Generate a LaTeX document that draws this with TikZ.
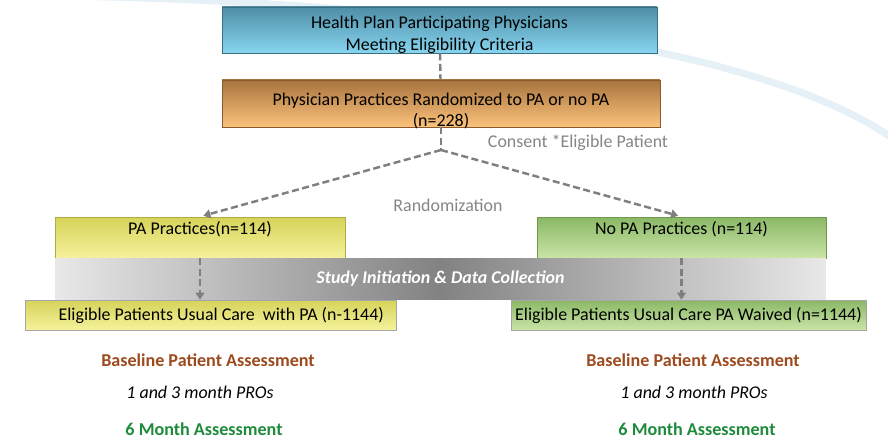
\documentclass[tikz,border=0pt]{standalone}
\usepackage{fontspec}
\setmainfont{Carlito}
\usetikzlibrary{arrows.meta}

\definecolor{tealtop}{HTML}{4F8EA6}
\definecolor{tealbot}{HTML}{87D5F0}
\definecolor{tealline}{HTML}{3B6E80}
\definecolor{orgtop}{HTML}{A8743F}
\definecolor{orgbot}{HTML}{FCC37C}
\definecolor{orgline}{HTML}{8B5A2B}
\definecolor{yeltop}{HTML}{D6D35A}
\definecolor{yelbot}{HTML}{F5F29C}
\definecolor{yelline}{HTML}{B0AC40}
\definecolor{grntop}{HTML}{8AB866}
\definecolor{grnbot}{HTML}{CAE4A6}
\definecolor{grnline}{HTML}{6E9A4E}
\definecolor{linkgray}{HTML}{7F7F7F}
\definecolor{notegray}{HTML}{858585}
\definecolor{basebrown}{HTML}{9C4A1E}
\definecolor{sixgreen}{HTML}{1E8B3C}
\definecolor{swooshblue}{HTML}{E6F0F7}

\begin{document}
\begin{tikzpicture}[x=0.02cm,y=-0.02cm,
  boxtext/.style={inner sep=0pt, align=center, font=\fontsize{10.2}{12.4}\selectfont},
  box/.style={draw, boxtext},
  bluebox/.style={box, draw=tealline, top color=tealtop, bottom color=tealbot},
  orangebox/.style={box, draw=orgline, top color=orgtop, bottom color=orgbot},
  yellowbox/.style={box, draw=yelline, top color=yeltop, bottom color=yelbot},
  greenbox/.style={box, draw=grnline, top color=grntop, bottom color=grnbot},
  link/.style={linkgray, line width=1.4pt, dash pattern=on 4pt off 2pt},
  linkarrow/.style={link, -{Triangle[width=5pt,length=4pt]}, shorten >=2pt},
  note/.style={notegray, font=\fontsize{10.2}{12}\selectfont},
  basetext/.style={basebrown, font=\fontsize{10.3}{12}\selectfont\bfseries},
  protext/.style={font=\fontsize{10.2}{12}\selectfont\itshape},
  sixtext/.style={sixgreen, font=\fontsize{10.3}{12}\selectfont\bfseries}]
\useasboundingbox (0,0) rectangle (888,438);

% background swoosh
\draw[swooshblue, line width=4pt] (60,-4) .. controls (420,2) and (760,45) .. (892,138);

% top of the flow
\node[bluebox, minimum width=8.7cm, minimum height=0.92cm,
  label={[boxtext, yshift=-0.09cm]center:Health Plan Participating Physicians\\Meeting Eligibility Criteria}]
  (elig) at (439.5,30) {};
\node[orangebox, minimum width=8.76cm, minimum height=0.94cm,
  label={[boxtext, yshift=-0.15cm]center:Physician Practices Randomized to PA or no PA\\(n=228)}]
  (rand) at (441,103.5) {};
\coordinate (split) at (441,150);
\draw[link] (elig) -- (rand);
\draw[link] (rand) -- (split);
\node[note] (consent) at (578,143) {Consent *Eligible Patient};

% practices
\node[yellowbox, minimum width=5.8cm, minimum height=0.82cm, text depth=11pt] (papr) at (200,237.5)
  {PA Practices(n=114)};
\node[greenbox, minimum width=5.78cm, minimum height=0.82cm, text depth=11pt] (nopa) at (681.5,237.5)
  {No PA Practices (n=114)};
\draw[linkarrow] (split) -- (papr.north);
\draw[linkarrow] (split) -- (nopa.north);
\node[note] (randz) at (448,205) {Randomization};

% study band
\node[minimum width=15.42cm, minimum height=0.84cm, inner sep=0pt,
  left color=gray!18, right color=gray!18, middle color=gray!98,
  text=white, font=\fontsize{10.2}{12}\selectfont\bfseries\itshape] (band) at (440.5,279)
  {Study Initiation \& Data Collection};

% patients
\node[yellowbox, draw=gray!70, minimum width=7.42cm, minimum height=0.6cm] (elil) at (210.5,315)
  {\hspace*{1.2em}Eligible Patients Usual Care \ with PA (n-1144)};
\node[greenbox, draw=gray!70, minimum width=7.1cm, minimum height=0.6cm] (elir) at (688.5,315)
  {Eligible Patients Usual Care PA Waived (n=1144)};
\draw[linkarrow, shorten >=0pt] (papr.south) -- (papr.south |- elil.north);
\draw[linkarrow, shorten >=0pt] (nopa.south) -- (nopa.south |- elir.north);

% assessments
\node[basetext] (basel) at (208,360) {Baseline Patient Assessment};
\node[protext] (prol) at (200,392) {1 and 3 month PROs};
\node[sixtext] (sixl) at (204,429) {6 Month Assessment};
\node[basetext] (baser) at (693,360) {Baseline Patient Assessment};
\node[protext] (pror) at (694,392) {1 and 3 month PROs};
\node[sixtext] (sixr) at (697,429) {6 Month Assessment};
\end{tikzpicture}
\end{document}
